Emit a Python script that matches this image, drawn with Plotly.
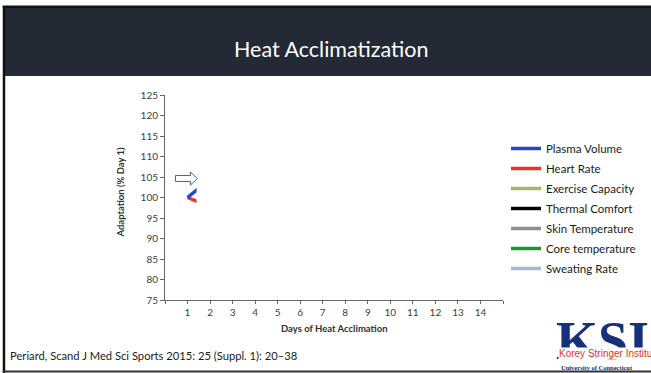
import plotly.graph_objects as go

# ---------------- data ----------------
days = [1, 2]
series_names = ["Plasma Volume", "Heart Rate", "Exercise Capacity", "Thermal Comfort",
                "Skin Temperature", "Core temperature", "Sweating Rate"]
plasma_volume = [100, 104.5]
heart_rate = [100, 97.8]
exercise_capacity = [100, None]
thermal_comfort = [100, None]
skin_temperature = [100, None]
core_temperature = [100, None]
sweating_rate = [100, None]
series_values = [plasma_volume, heart_rate, exercise_capacity, thermal_comfort,
                 skin_temperature, core_temperature, sweating_rate]
series_colors = ["#2445d8", "#e8322a", "#9fb86a", "#000000", "#8e8e8e", "#1a9630", "#a9b8d2"]

x_tick_vals = list(range(0, 16))
x_tick_text = [""] + [str(d) for d in range(1, 15)] + [""]
y_tick_vals = list(range(75, 130, 5))
revealed_until_day = 1.4   # slide build: lines shown only up to here

# ---------------- geometry ----------------
W, H = 651, 373
L, R_edge, T, B_edge = 164.5, 503, 95, 300
PW, PH = R_edge - L, B_edge - T


def px(x):
    return (x - L) / PW


def py(y):
    return (B_edge - y) / PH


FONT = "Lato"

fig = go.Figure()
for name, vals, col in reversed(list(zip(series_names, series_values, series_colors))):
    fig.add_trace(go.Scatter(x=days, y=vals, mode="lines", name=name, legendgroup=name,
                             line=dict(color=col, width=3.5), showlegend=True,
                             legendrank=series_names.index(name)))

shapes = []
shapes.append(dict(type="rect", xref="x", yref="y", x0=revealed_until_day, x1=15,
                   y0=75.4, y1=125, fillcolor="white", line=dict(width=0), layer="above"))
shapes.append(dict(type="rect", xref="paper", yref="paper", x0=px(3), x1=px(652),
                   y0=py(76), y1=py(7.5), fillcolor="#232935", line=dict(width=0), layer="below"))
shapes.append(dict(type="rect", xref="paper", yref="paper", x0=px(2), x1=px(652),
                   y0=py(8), y1=py(5.5), fillcolor="#111111", line=dict(width=0), layer="below"))
shapes.append(dict(type="rect", xref="paper", yref="paper", x0=px(2), x1=px(4.5),
                   y0=py(373), y1=py(6), fillcolor="#111111", line=dict(width=0), layer="below"))
shapes.append(dict(type="rect", xref="paper", yref="paper", x0=px(2), x1=px(652),
                   y0=py(372.5), y1=py(370.5), fillcolor="#333333", line=dict(width=0), layer="below"))
pts = [(175, 175.5), (190, 175.5), (190, 172), (197, 178.5), (190, 185), (190, 181.5), (175, 181.5)]
path = "M " + " L ".join(f"{px(a):.5f},{py(b):.5f}" for a, b in pts) + " Z"
shapes.append(dict(type="path", xref="paper", yref="paper", path=path,
                   fillcolor="white", line=dict(color="#3d63b8", width=1), layer="above"))


def ann(text, x, y, size, color, family=FONT, xanchor="center", **kw):
    return dict(text=text, x=px(x), y=py(y), xref="paper", yref="paper", showarrow=False,
                xanchor=xanchor, yanchor="middle", font=dict(family=family, size=size, color=color), **kw)


annotations = [
    ann("Heat Acclimatization", 331, 49, 21.5, "white"),
    ann("<b>Adaptation (% Day 1)</b>", 119, 192, 9.5, "#303030", textangle=-90),
    ann("<b>Days of Heat Acclimation</b>", 334, 328, 9.5, "#303030"),
    ann("Periard, Scand J Med Sci Sports 2015: 25 (Suppl. 1): 20–38", 7, 355, 11.2, "#1a1a1a",
        xanchor="left"),
    ann("<b>KSI</b>", 554, 341, 54, "#17307a", family="Liberation Serif", xanchor="left"),
    ann("Korey Stringer Institute", 558, 353, 10, "#e2321f",
        family="Liberation Sans Narrow, Liberation Sans", xanchor="left", bgcolor="white", borderpad=0),
    ann("<b>University of Connecticut</b>", 559, 367.5, 6.5, "#17307a",
        family="Liberation Serif", xanchor="left"),
]

fig.update_layout(
    width=W, height=H, autosize=False,
    margin=dict(l=L, r=W - R_edge, t=T, b=H - B_edge, pad=0, autoexpand=False),
    paper_bgcolor="white", plot_bgcolor="white",
    font=dict(family=FONT, size=10, color="#404040"),
    showlegend=True,
    legend=dict(xref="container", yref="container", x=506 / W, y=1 - 134 / H,
                xanchor="left", yanchor="top", font=dict(family=FONT, size=11.5, color="#1a1a1a"),
                tracegroupgap=1, itemwidth=30, bgcolor="rgba(0,0,0,0)", traceorder="grouped"),
    xaxis=dict(range=[0, 15], tickmode="array", tickvals=x_tick_vals, ticktext=x_tick_text,
               showgrid=False, zeroline=False, showline=True, linecolor="#666666", linewidth=1,
               ticks="outside", ticklen=3, tickcolor="#666666", automargin=False,
               tickfont=dict(family=FONT, size=10, color="#404040")),
    yaxis=dict(range=[75, 125], tickmode="array", tickvals=y_tick_vals,
               showgrid=False, zeroline=False, showline=True, linecolor="#666666", linewidth=1,
               ticks="outside", ticklen=4, tickcolor="#666666", automargin=False,
               tickfont=dict(family=FONT, size=10, color="#404040")),
    shapes=shapes, annotations=annotations,
)

fig.write_html(
    "out.html",
    config={"displayModeBar": False, "responsive": False},
    post_script="document.documentElement.style.overflow='hidden';"
                "document.body.style.overflow='hidden';document.body.style.margin='0';",
)
